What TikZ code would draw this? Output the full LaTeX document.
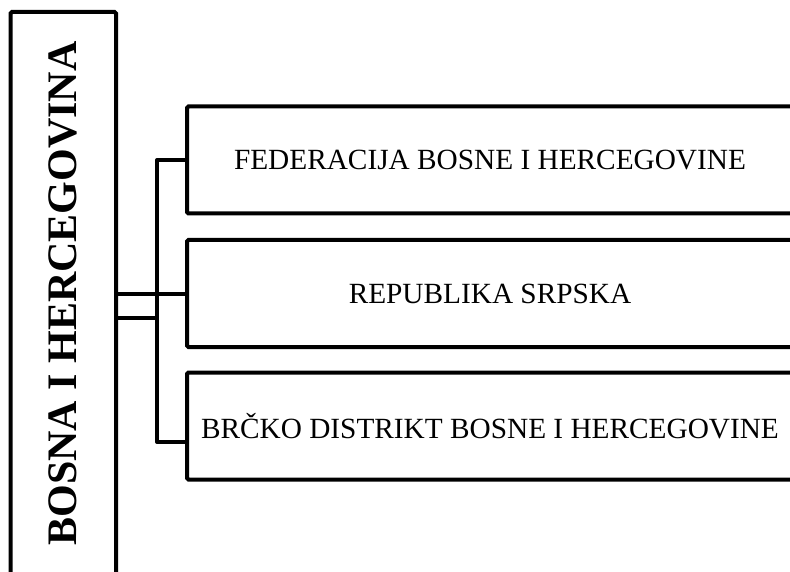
\documentclass[tikz,border=0pt]{standalone}
\usepackage{fontspec}
\setmainfont{Liberation Serif}
\begin{document}
\begin{tikzpicture}[x = 1pt, y = -1pt,
	unit/.style = {draw = black, line width = 4pt, rounded corners = 1.5pt, minimum width = 606pt, minimum height = 107pt, inner sep = 0pt, font = \fontsize{29.3}{33}\selectfont},
	state/.style = {draw = black, line width = 4pt, rounded corners = 1.5pt, minimum width = 105.5pt, minimum height = 588pt, inner sep = 0pt},
	link/.style = {draw = black, line width = 4pt, line join = round}]
	\useasboundingbox (0, 0) rectangle (790, 572);
	
	% država
	\node [state] (bih) at (63.25, 306) {};
	\node [rotate = 90, font = \fontsize{42}{46}\selectfont\bfseries] (bihname) at (63, 293.5) {BOSNA I HERCEGOVINA};
	
	% entiteti
	\node [unit] (fbih) at (490, 160) {FEDERACIJA BOSNE I HERCEGOVINE};
	\node [unit] (rs) at (490, 293.5) {REPUBLIKA SRPSKA};
	\node [unit] (brcko) at (490, 426) {BRČKO DISTRIKT BOSNE I HERCEGOVINE};
	
	% lines
	\coordinate (spine) at ([xshift = -28pt]fbih.west);
	\coordinate (spinebot) at ([yshift = -16pt]brcko.west);
	\coordinate (join) at ([yshift = -24.5pt]spine |- rs.west);
	\draw [link] (fbih.west) -- (spine) |- (spinebot);
	\draw [link] (bih.east |- rs.west) -- (rs.west);
	\draw [link] (bih.east |- join) -- (join);
\end{tikzpicture}
\end{document}
